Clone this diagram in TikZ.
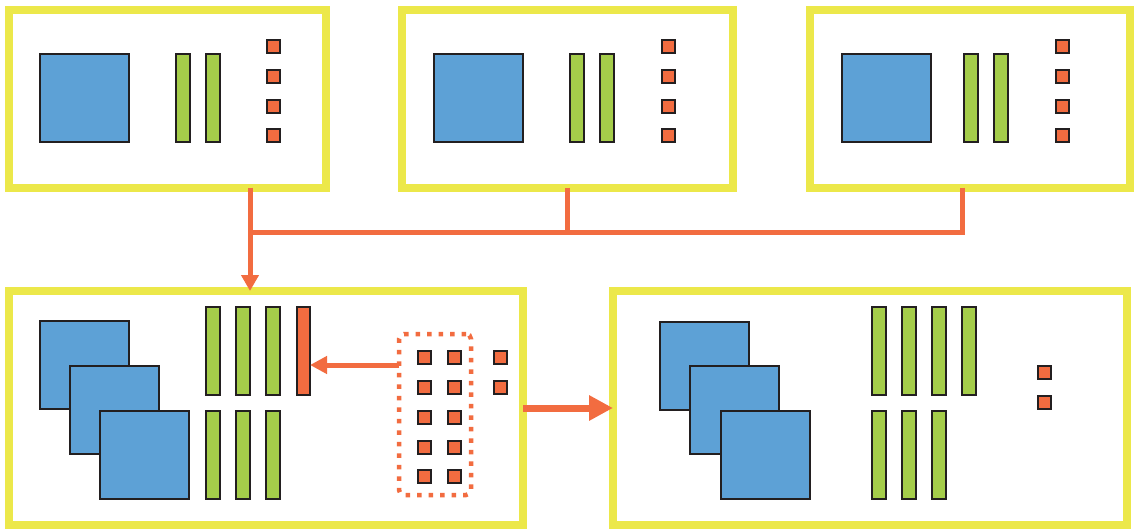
\documentclass[tikz,border=0pt]{standalone}
\usetikzlibrary{arrows.meta}

\definecolor{frameyellow}{RGB}{236,232,74}
\definecolor{cubeblue}{RGB}{93,161,214}
\definecolor{leafgreen}{RGB}{165,205,74}
\definecolor{dotorange}{RGB}{242,108,64}
\definecolor{edgeblack}{RGB}{35,31,32}

\tikzset{frame/.style 2 args = {rectangle, draw=frameyellow, line width=8pt,
                                minimum width=#1, minimum height=#2,
                                inner sep=0pt, outer sep=0pt},
         piece/.style = {rectangle, draw=edgeblack, line width=2pt,
                         inner sep=0pt, outer sep=0pt},
         plate/.style = {piece, fill=cubeblue, minimum width=89pt, minimum height=88pt},
         slab/.style  = {piece, fill=leafgreen, minimum width=14pt, minimum height=88pt},
         hotslab/.style = {piece, fill=dotorange, minimum width=13pt, minimum height=88pt},
         cell/.style  = {piece, fill=dotorange, minimum size=13pt},
         pool/.style  = {rectangle, draw=dotorange, line width=4.5pt,
                         dash pattern=on 4.5pt off 7pt, rounded corners=5pt,
                         minimum width=72pt, minimum height=161pt, outer sep=0pt},
         wire/.style  = {draw=dotorange, line width=5pt},
         fatwire/.style = {draw=dotorange, line width=7pt}
        }

\begin{document}
\begin{tikzpicture}[x=1pt, y=-1pt]
  \useasboundingbox (0,0) rectangle (1136,530);
  \fill[white] (0,0) rectangle (1136,530);

  % the three upper frames
  \node[frame={317pt}{178pt}] (top1) at (167.5,98.5) {};
  \node[frame={331pt}{178pt}] (top2) at (567.5,98.5) {};
  \node[frame={320pt}{178pt}] (top3) at (970,98.5) {};
  \foreach \i/\bx/\ga/\gb/\ox in {1/84/183/212.5/273, 2/478/577/607/668, 3/886.5/970.5/1001/1062} {
    \node[plate] (sq\i) at (\bx,98) {};
    \node[slab] (ga\i) at (\ga,98) {};
    \node[slab] (gb\i) at (\gb,98) {};
    \foreach \r [count=\k] in {46.5,76,106,135.5}
      \node[cell] (c\i-\k) at (\ox,\r) {};
  }

  % the two lower frames
  \node[frame={514pt}{234pt}] (bot1) at (266,408) {};
  \node[frame={514pt}{234pt}] (bot2) at (870,408) {};

  % left lower frame
  \foreach \x/\y [count=\k] in {84/365, 114/410, 144.5/454.5}
    \node[plate] (lp\k) at (\x,\y) {};
  \foreach \x [count=\k] in {212.5,243,273} {
    \node[slab] (lu\k) at (\x,350.5) {};
    \node[slab] (ld\k) at (\x,454.5) {};
  }
  \node[hotslab] (hot) at (303.5,350.5) {};
  \node[pool] (pool) at (435,414.5) {};
  \foreach \r [count=\k] in {357.5,387.5,417.5,447,476.5} {
    \node[cell] (pa\k) at (424,\r) {};
    \node[cell] (pb\k) at (454.5,\r) {};
  }
  \node[cell] (sp1) at (500,357.5) {};
  \node[cell] (sp2) at (500,387.5) {};

  % right lower frame
  \foreach \x/\y [count=\k] in {704.5/365.5, 734.5/410, 765/454.5}
    \node[plate] (rp\k) at (\x,\y) {};
  \foreach \x [count=\k] in {878.5,908.5,938.5,969}
    \node[slab] (ru\k) at (\x,350.5) {};
  \foreach \x [count=\k] in {878.5,908.5,938.5}
    \node[slab] (rd\k) at (\x,454.5) {};
  \node[cell] (rc1) at (1044,372.5) {};
  \node[cell] (rc2) at (1044,402.5) {};

  % connectors
  \coordinate (tap)  at (250,232);
  \coordinate (bend) at (962,232);
  \coordinate (feed) at (399,365);
  \draw[wire] (top1.south -| tap) -- (tap);
  \draw[wire] (top2.south) -- (top2.south |- tap);
  \draw[wire] (top3.south -| bend) -- (bend) -- (tap);
  \draw[wire, -{Triangle[length=16pt, width=17pt]}] (tap) -- (bot1.north -| tap);
  \draw[wire, -{Triangle[length=17pt, width=17pt]}] (feed) -- (feed -| hot.east);
  \draw[fatwire, -{Triangle[length=24pt, width=24pt]}] (bot1.east) -- (bot2.west);
\end{tikzpicture}
\end{document}
